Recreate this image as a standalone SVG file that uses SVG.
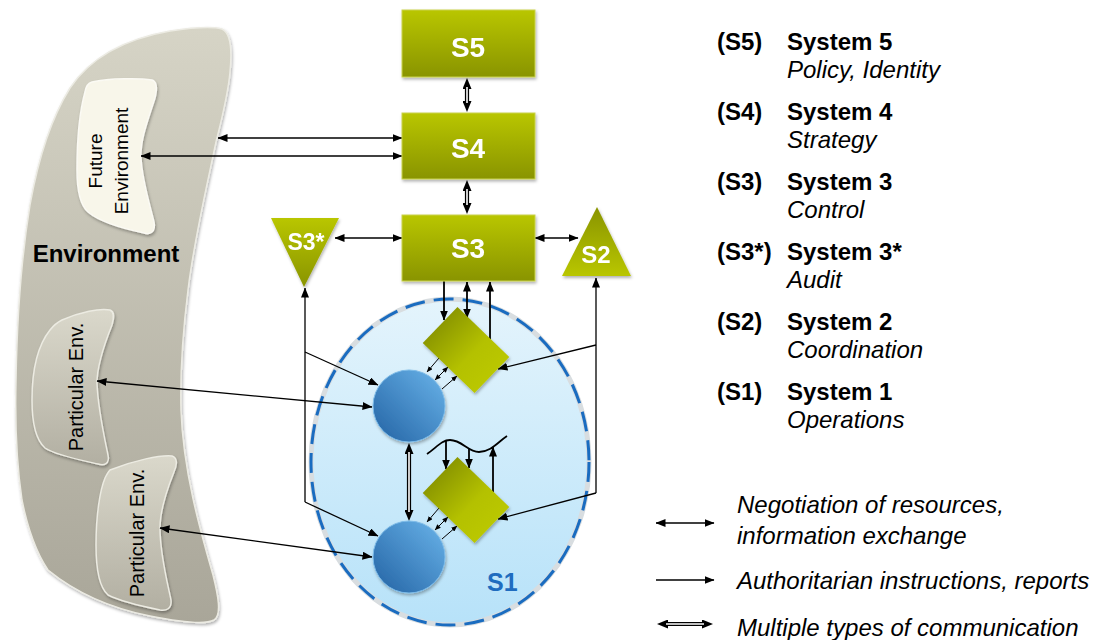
<svg xmlns="http://www.w3.org/2000/svg" width="1102" height="640" viewBox="0 0 1102 640">
<defs>
<style>
.node-t{font-family:"Liberation Sans",Arial,sans-serif;font-weight:bold;fill:#fff;text-anchor:middle}
.leg-b{font-family:"Liberation Sans",Arial,sans-serif;font-weight:bold;font-size:24px;fill:#000}
.leg-i{font-family:"Liberation Sans",Arial,sans-serif;font-style:italic;font-size:24px;fill:#000}
.env-t{font-family:"Liberation Sans",Arial,sans-serif;fill:#000;text-anchor:middle}
.c{fill:none;stroke:#000;stroke-width:1.3}
.ct{fill:none;stroke:#000;stroke-width:1.8}
.cs{fill:none;stroke:#000;stroke-width:1}
.dbl{fill:none;stroke:#000;stroke-width:4.2}
.dblw{fill:none;stroke:#fff;stroke-width:1.6}
</style>
<linearGradient id="gGreen" x1="0" y1="0" x2="0" y2="1">
<stop offset="0" stop-color="#b9c600"/><stop offset="1" stop-color="#899400"/>
</linearGradient>
<linearGradient id="gGreenUp" x1="0" y1="1" x2="0" y2="0">
<stop offset="0" stop-color="#b9c600"/><stop offset="1" stop-color="#899400"/>
</linearGradient>
<linearGradient id="gDiamond" x1="0" y1="0" x2="1" y2="0">
<stop offset="0" stop-color="#8c9800"/><stop offset="0.6" stop-color="#b4c100"/><stop offset="1" stop-color="#bac700"/>
</linearGradient>
<linearGradient id="gBlue" x1="1" y1="0" x2="0" y2="1">
<stop offset="0" stop-color="#6ab4ea"/><stop offset="1" stop-color="#2262a3"/>
</linearGradient>
<linearGradient id="gS1" x1="0" y1="0" x2="0" y2="1">
<stop offset="0" stop-color="#e4f4fc"/><stop offset="1" stop-color="#b7e2f9"/>
</linearGradient>
<linearGradient id="gEnv" x1="0" y1="0" x2="0" y2="1">
<stop offset="0" stop-color="#d6d4c6"/><stop offset="1" stop-color="#a9a699"/>
</linearGradient>
<linearGradient id="gPart2" x1="0" y1="0" x2="0" y2="1">
<stop offset="0" stop-color="#dad8cb"/><stop offset="1" stop-color="#b2afa2"/>
</linearGradient>
<filter id="sh" x="-20%" y="-20%" width="140%" height="140%">
<feDropShadow dx="1" dy="2" stdDeviation="1.5" flood-color="#000" flood-opacity="0.3"/>
</filter>
<marker id="ah" markerUnits="userSpaceOnUse" markerWidth="10" markerHeight="8" refX="9.5" refY="4" orient="auto-start-reverse">
<path d="M0,0 L10,4 L0,8 Z" fill="#000"/>
</marker>
<marker id="ahs" markerUnits="userSpaceOnUse" markerWidth="6" markerHeight="5" refX="5.7" refY="2.5" orient="auto-start-reverse">
<path d="M0,0 L6,2.5 L0,5 Z" fill="#000"/>
</marker>
<marker id="ahd" markerUnits="userSpaceOnUse" markerWidth="11" markerHeight="9" refX="1" refY="4.5" orient="auto-start-reverse">
<path d="M0,0 L11,4.5 L0,9 Z" fill="#000"/>
</marker>
</defs>

<rect width="1102" height="640" fill="#fff"/>

<g id="environment">
<path d="M222,29 C231,33 232,52 230,72 C228,95 222,118 216,142 C206,190 194,240 188,290 C183,330 180,370 181,410 C183,470 200,530 213,575 C218,595 222,615 214,620 C205,625 180,622 150,616 C110,608 75,592 48,570 C38,555 28,530 22,500 C16,460 15,420 16,380 C17,320 21,260 30,205 C38,160 50,120 70,88 C92,55 130,38 170,31 C190,28 210,26 222,29 Z" fill="url(#gEnv)" stroke="#ecebe3" stroke-width="1.5" filter="url(#sh)"/>
<text class="env-t" x="106" y="262" font-size="24" font-weight="bold">Environment</text>
</g>

<g id="future-environment">
<path d="M92,82 C110,78 140,78 152,80 C158,82 157,90 155,98 C148,120 140,140 141,158 C142,180 150,205 154,222 C156,232 150,235 144,233 C120,228 100,222 88,212 C80,205 77,190 77,170 C77,140 80,110 85,92 C86,86 88,83 92,82 Z" fill="#f8f6ea" stroke="#fbfaf4" stroke-width="1.5" filter="url(#sh)"/>
<text class="env-t" transform="rotate(-90)" x="-161" y="102" font-size="19">Future</text>
<text class="env-t" transform="rotate(-90)" x="-161" y="128" font-size="19">Environment</text>
</g>

<g id="particular-env-1">
<path d="M62,320 C80,312 100,308 110,310 C115,312 114,318 112,325 C104,345 97,365 97,383 C98,410 105,440 108,455 C110,464 104,466 98,464 C80,460 55,455 45,448 C36,440 32,425 32,400 C32,370 38,345 50,330 C54,325 58,322 62,320 Z" fill="url(#gPart2)" stroke="#ecebe2" stroke-width="1.5" filter="url(#sh)"/>
<text class="env-t" transform="rotate(-90)" x="-387" y="83" font-size="20">Particular Env.</text>
</g>

<g id="particular-env-2">
<path d="M110,470 C135,460 160,455 172,456 C178,458 177,465 174,472 C166,492 160,510 160,528 C160,555 168,585 171,600 C172,609 166,611 160,610 C140,606 120,601 108,595 C100,588 96,570 96,545 C96,515 100,490 105,478 C107,474 108,472 110,470 Z" fill="url(#gPart2)" stroke="#ecebe2" stroke-width="1.5" filter="url(#sh)"/>
<text class="env-t" transform="rotate(-90)" x="-533" y="144" font-size="20">Particular Env.</text>
</g>

<g id="s1">
<ellipse cx="450" cy="462" rx="139" ry="163" fill="url(#gS1)" stroke="#d8dde0" stroke-width="5"/>
<ellipse cx="450" cy="462" rx="139" ry="163" fill="none" stroke="#1a6cc0" stroke-width="3" stroke-dasharray="20 9"/>
<text x="487" y="591" font-family="Liberation Sans, Arial, sans-serif" font-weight="bold" font-size="25" fill="#1f6cbf">S1</text>
</g>

<g id="connectors">
<path class="c" d="M218,138 L402,138" marker-start="url(#ah)" marker-end="url(#ah)"/>
<path class="c" d="M141,156 L402,156" marker-start="url(#ah)" marker-end="url(#ah)"/>
<path class="dbl" d="M467,88 L467,102" marker-start="url(#ahd)" marker-end="url(#ahd)"/>
<path class="dblw" d="M467,87 L467,103"/>
<path class="dbl" d="M467,190 L467,204" marker-start="url(#ahd)" marker-end="url(#ahd)"/>
<path class="dblw" d="M467,189 L467,205"/>
<path class="c" d="M335,238 L402,238" marker-start="url(#ah)" marker-end="url(#ah)"/>
<path class="c" d="M535,238 L578,238" marker-start="url(#ah)" marker-end="url(#ah)"/>
<path class="ct" d="M444,281 L444,320" marker-end="url(#ah)"/>
<path class="ct" d="M467,282 L467,318" marker-start="url(#ah)" marker-end="url(#ah)"/>
<path class="ct" d="M490,339 L490,282" marker-end="url(#ah)"/>
<path class="c" d="M305,502 L305,288" marker-end="url(#ah)"/>
<path class="c" d="M305,352 L378,385" marker-end="url(#ah)"/>
<path class="c" d="M305,502 L378,536" marker-end="url(#ah)"/>
<path class="c" d="M596,493 L596,278" marker-end="url(#ah)"/>
<path class="c" d="M596,345 L498,369" marker-end="url(#ah)"/>
<path class="c" d="M596,493 L498,519" marker-end="url(#ah)"/>
<path class="c" d="M97,381 L372,407" marker-start="url(#ah)" marker-end="url(#ah)"/>
<path class="c" d="M160,528 L372,557" marker-start="url(#ah)" marker-end="url(#ah)"/>
<path class="dbl" d="M409,453 L409,511" marker-start="url(#ahd)" marker-end="url(#ahd)"/>
<path class="dblw" d="M409,452 L409,512"/>
<path class="cs" d="M439,358 L427,372" marker-end="url(#ahs)"/>
<path class="cs" d="M435,380 L448,367" marker-start="url(#ahs)" marker-end="url(#ahs)"/>
<path class="cs" d="M442,389 L457,376" marker-end="url(#ahs)"/>
<path class="cs" d="M439,508 L427,522" marker-end="url(#ahs)"/>
<path class="cs" d="M435,530 L448,517" marker-start="url(#ahs)" marker-end="url(#ahs)"/>
<path class="cs" d="M442,539 L457,526" marker-end="url(#ahs)"/>
<path class="ct" d="M427,454 C437,447 442,440 450,440 C462,440 468,452 479,452 C491,452 498,442 507,436"/>
<path class="ct" d="M446,441 L446,469" marker-end="url(#ah)"/>
<path class="ct" d="M469,448 L469,468" marker-end="url(#ah)"/>
<path class="ct" d="M493,492 L493,447" marker-end="url(#ah)"/>
<path class="c" d="M656,523 L714,523" marker-start="url(#ah)" marker-end="url(#ah)"/>
<path class="c" d="M656,580 L714,580" marker-end="url(#ah)"/>
<path class="dbl" d="M667,624 L703,624" marker-start="url(#ahd)" marker-end="url(#ahd)"/>
<path class="dblw" d="M666,624 L704,624"/>
</g>

<g id="s5" filter="url(#sh)">
<rect x="402" y="10" width="133" height="67" fill="url(#gGreen)" stroke="#c9d24a" stroke-width="1"/>
<text class="node-t" x="468" y="57" font-size="28">S5</text>
</g>
<g id="s4" filter="url(#sh)">
<rect x="402" y="113" width="133" height="66" fill="url(#gGreen)" stroke="#c9d24a" stroke-width="1"/>
<text class="node-t" x="468" y="158" font-size="28">S4</text>
</g>
<g id="s3" filter="url(#sh)">
<rect x="402" y="215" width="133" height="66" fill="url(#gGreen)" stroke="#c9d24a" stroke-width="1"/>
<text class="node-t" x="468" y="258" font-size="28">S3</text>
</g>
<g id="s3star" filter="url(#sh)">
<path d="M271,218 L339,218 L304,287 Z" fill="url(#gGreen)"/>
<text class="node-t" x="306" y="250" font-size="23">S3*</text>
</g>
<g id="s2" filter="url(#sh)">
<path d="M597,207 L631,276 L562,276 Z" fill="url(#gGreenUp)"/>
<text class="node-t" x="596" y="263" font-size="24">S2</text>
</g>

<g id="management-1" filter="url(#sh)">
<rect x="-36" y="-25" width="72" height="50" transform="translate(466,350) rotate(44)" fill="url(#gDiamond)"/>
</g>
<g id="management-2" filter="url(#sh)">
<rect x="-36" y="-25" width="72" height="50" transform="translate(466,500) rotate(44)" fill="url(#gDiamond)"/>
</g>
<g id="operation-1" filter="url(#sh)">
<circle cx="409" cy="406" r="36" fill="url(#gBlue)" stroke="#7dbbe8" stroke-width="1"/>
</g>
<g id="operation-2" filter="url(#sh)">
<circle cx="409" cy="557" r="36" fill="url(#gBlue)" stroke="#7dbbe8" stroke-width="1"/>
</g>

<g id="legend-systems">
<text class="leg-b" x="717" y="50">(S5)</text><text class="leg-b" x="787" y="50">System 5</text>
<text class="leg-i" x="787" y="78">Policy, Identity</text>
<text class="leg-b" x="717" y="120">(S4)</text><text class="leg-b" x="787" y="120">System 4</text>
<text class="leg-i" x="787" y="148">Strategy</text>
<text class="leg-b" x="717" y="190">(S3)</text><text class="leg-b" x="787" y="190">System 3</text>
<text class="leg-i" x="787" y="218">Control</text>
<text class="leg-b" x="717" y="260">(S3*)</text><text class="leg-b" x="787" y="260">System 3*</text>
<text class="leg-i" x="787" y="288">Audit</text>
<text class="leg-b" x="717" y="330">(S2)</text><text class="leg-b" x="787" y="330">System 2</text>
<text class="leg-i" x="787" y="358">Coordination</text>
<text class="leg-b" x="717" y="400">(S1)</text><text class="leg-b" x="787" y="400">System 1</text>
<text class="leg-i" x="787" y="428">Operations</text>
</g>

<g id="legend-connectors">
<text class="leg-i" x="737" y="513">Negotiation of resources,</text>
<text class="leg-i" x="737" y="544">information exchange</text>
<text class="leg-i" x="737" y="589">Authoritarian instructions, reports</text>
<text class="leg-i" x="737" y="636">Multiple types of communication</text>
</g>
</svg>
